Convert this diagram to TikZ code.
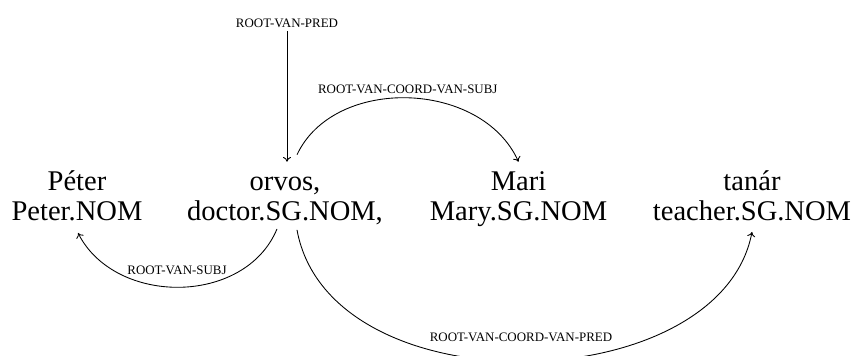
\documentclass[tikz,border=0pt]{standalone}
\usepackage{fontspec}
\setmainfont{Liberation Serif}
\usetikzlibrary{calc,arrows.meta}
\begin{document}
\begin{tikzpicture}[x=0.75pt,y=-0.75pt,
  word/.style={anchor=base,font=\fontsize{21.4pt}{22pt}\selectfont,
    text height=15pt,text depth=0pt,inner xsep=0pt,inner ysep=6pt},
  gloss/.style={anchor=base,font=\fontsize{21.4pt}{22pt}\selectfont,
    text height=15pt,text depth=5pt,inner xsep=0pt,inner ysep=1.5pt},
  lbl/.style={font=\fontsize{9.7pt}{10pt}\selectfont,inner sep=2pt},
  dep/.style={-{To[length=3.6pt,width=6pt]},line width=0.65pt}]
\useasboundingbox (0,0) rectangle (857,355);
\clip (0,0) rectangle (857,355);

% words (upper line) and glosses (lower line)
\node[word]  (w1) at (77,190)  {Péter};
\node[gloss] (g1) at (77,220)  {Peter.NOM};
\node[word]  (w2) at (285,190) {orvos,};
\node[gloss] (g2) at (285,220) {doctor.SG.NOM,};
\node[word]  (w3) at (518.5,190) {Mari};
\node[gloss] (g3) at (518.5,220) {Mary.SG.NOM};
\node[word]  (w4) at (752,190) {tanár};
\node[gloss] (g4) at (752,220) {teacher.SG.NOM};

% root label
\node[lbl,anchor=south] (root) at (287,31) {ROOT-VAN-PRED};
\draw[dep] (root.south) -- (root.south |- w2.north);

% dependency arcs
\draw[dep] ($(w2.north)+(12,-7)$) .. controls +(37,-79) and +(-37,-82) .. (w3.north)
  node[lbl,pos=0.5,above=1pt] (l1) {ROOT-VAN-COORD-VAN-SUBJ};
\draw[dep] ($(g2.south)+(-8,0)$) .. controls +(-32,77) and +(37,73) .. ($(g1.south)+(1,4)$);
\node[lbl] (l2) at (177,270) {ROOT-VAN-SUBJ};
\draw[dep] ($(g2.south)+(12,1)$) .. controls +(33,180) and +(-32,168) .. ($(g4.south)+(0,3)$);
\node[lbl] (l3) at (521,337) {ROOT-VAN-COORD-VAN-PRED};
\end{tikzpicture}
\end{document}
